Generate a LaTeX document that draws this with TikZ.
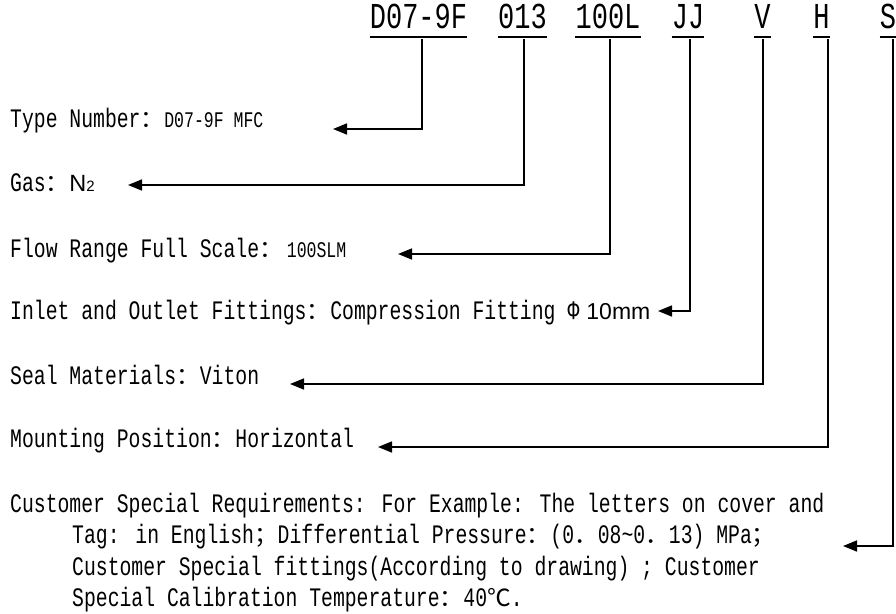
\documentclass[tikz,border=0pt]{standalone}
\usepackage{fontspec}
\setmainfont{Liberation Mono}[FakeStretch=0.74]
\newfontfamily\cjk{Noto Sans CJK SC}
\newfontfamily\arial{Liberation Sans}
\usetikzlibrary{arrows.meta}

\newcommand\bodyfont{\fontsize{26.7}{31.5}\selectfont}
\newcommand\smallfont{\fontsize{22.3}{24}\selectfont}
\newcommand\codefont{\fontsize{36.5}{38}\selectfont}
\newcommand\fw[1]{{\cjk\fontsize{23.7}{24}\selectfont #1}}

\begin{document}
\begin{tikzpicture}
  [x=1pt,y=-1pt,
   code/.style={font=\codefont,anchor=base,inner sep=0pt,text depth=8.7pt},
   desc/.style={font=\bodyfont,anchor=base west,inner sep=0pt,align=left},
   link/.style={line width=1.6pt,-{Triangle[length=14pt,width=11pt]}},
   uline/.style={line width=2pt}]
  \useasboundingbox (0,0) rectangle (896,613);

  % part number
  \node[code] (c1) at (418.5,28.3) {D07-9F};
  \node[code] (c2) at (522.5,28.3) {013};
  \node[code] (c3) at (608,28.3)   {100L};
  \node[code] (c4) at (688,28.3)   {JJ};
  \node[code] (c5) at (762.5,28.3) {V};
  \node[code] (c6) at (821.5,28.3) {H};
  \node[code] (c7) at (888,28.3)   {S};

  % explanations
  \node[desc] (type)  at (10,127) {Type Number\fw{：}{\smallfont D07-9F MFC}};
  \node[desc] (gas)   at (10,191) {Gas\fw{：}{\arial\fontsize{23.5}{24}\selectfont N{\fontsize{15}{15}\selectfont 2}}};
  \node[desc] (flow)  at (10,257) {Flow Range Full Scale\fw{：}\hspace{4pt}{\smallfont 100SLM}};
  \node[desc] (fit)   at (10,319) {Inlet and Outlet Fittings\fw{：}Compression Fitting\hspace{12pt}Φ\hspace{7pt}{\arial\fontsize{23}{23}\selectfont 10mm}};
  \node[desc] (seal)  at (10,384) {Seal Materials\fw{：}Viton};
  \node[desc] (mount) at (10,447) {Mounting Position\fw{：}Horizontal};
  \node[desc] (cust)  at (10,606.5) {Customer Special Requirements: For Example: The letters on cover and\\
    \hspace*{62pt}Tag: in English\fw{；}Differential Pressure\fw{：}(0\fw{．}08\textasciitilde 0\fw{．}13) MPa\fw{；}\\
    \hspace*{62pt}Customer Special fittings(According to drawing) ; Customer\\
    \hspace*{62pt}Special Calibration Temperature\fw{：}40\fw{℃}.};

  % arrow ends
  \coordinate (t1) at (333,129);
  \coordinate (t2) at (128,185);
  \coordinate (t3) at (398,254);
  \coordinate (t4) at (658,311);
  \coordinate (t5) at (290,384);
  \coordinate (t6) at (378,447);
  \coordinate (t7) at (843,546);

  \foreach \c in {c1,c2,c3,c4,c5,c6,c7}
    \draw[uline] (\c.south west) -- (\c.south east);

  \foreach \c/\dx/\t in {c1/3.5/t1,c2/1.5/t2,c3/2/t3,c4/2/t4,c5/0.5/t5,c6/6.5/t6,c7/5/t7}
    \draw[link] ([xshift=\dx pt,yshift=-2pt]\c.south) |- (\t);
\end{tikzpicture}
\end{document}
